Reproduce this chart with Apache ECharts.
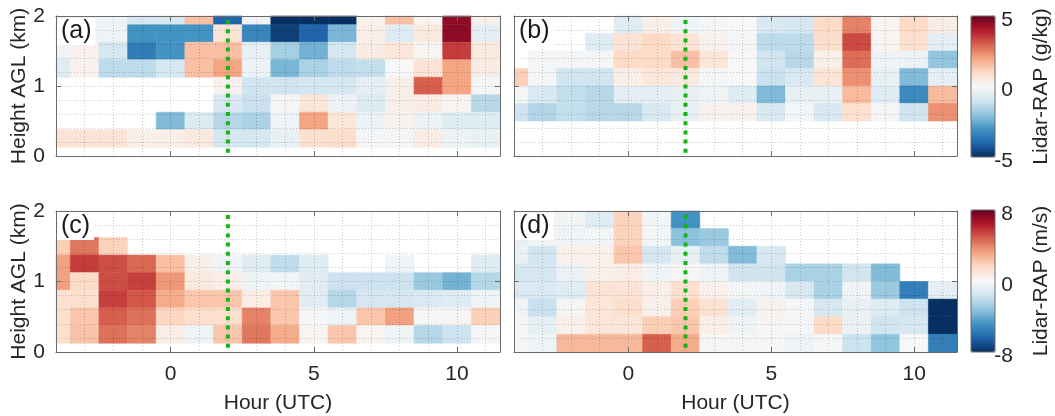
<!DOCTYPE html>
<html>
<head>
<meta charset="utf-8">
<script src="https://cdn.jsdelivr.net/npm/echarts@6/dist/echarts.min.js"></script>
<style>
  html, body { margin: 0; padding: 0; background: #ffffff; }
  #chart { width: 1055px; height: 416px; }
</style>
</head>
<body>
<div id="chart"></div>
<script>
// Hour bins (UTC) shared by all four panels, one column per hour
const hours = [-4, -3, -2, -1, 0, 1, 2, 3, 4, 5, 6, 7, 8, 9, 10, 11];
// Height bin centres (km AGL), top row first
const heightsAC = [2.0, 1.75, 1.5, 1.25, 1.0, 0.75, 0.5, 0.25];
const heightsBD = [1.875, 1.625, 1.375, 1.125, 0.875, 0.625, 0.375, 0.125];
// Reference time marked with the dotted line
const eventHour = [2];
// Tick labels
const hourTicks = [0, 5, 10];
const heightTicks = [0, 1, 2];
const mixingTicks = [-5, 0, 5];
const windTicks = [-8, 0, 8];
const panelLetters = ['(a)', '(b)', '(c)', '(d)'];
const axisNames = { hour: 'Hour (UTC)', height: 'Height AGL (km)', mixing: 'Lidar-RAP (g/kg)', wind: 'Lidar-RAP (m/s)' };

// (a) water vapour mixing ratio difference, g/kg (rows follow heightsAC)
const mixingDiffA = [
  [-0.2, -0.2, -0.2, -0.9, -0.9, 1.5, -4.0, -0.2, -5.0, -5.0, -5.0, 0.2, 1.5, 0.1, 4.5, 0.3],
  [-0.8, -0.3, -0.2, -3.0, -3.0, -3.0, 0.7, -3.3, -4.7, -4.0, -2.3, 0.3, -0.6, 0.5, 4.5, -0.5],
  [-0.2, 0.2, -0.9, -3.5, -3.0, 1.5, 1.5, -0.4, -1.7, -2.4, -0.9, 0.4, 0.6, 0.1, 3.5, 0.5],
  [-0.6, 0.2, -1.3, -1.3, -0.9, 1.5, 2.0, -0.3, -2.3, -1.6, -1.3, -1.2, 0.0, 0.7, 2.0, 0.4],
  [null, null, null, null, null, null, 0.2, -1.0, -1.0, -0.9, -0.9, -0.5, 0.3, 3.0, 2.0, -0.1],
  [null, null, null, null, null, null, -0.8, -1.1, -0.1, 0.6, -0.3, -0.7, 0.3, 0.4, 0.1, -1.4],
  [null, null, null, null, -2.2, -0.7, -1.4, -1.6, -0.2, 2.0, 0.6, -0.3, 0.2, -0.3, -0.6, -0.6],
  [0.7, 0.7, 0.7, 0.3, 0.3, 0.5, -0.9, -0.9, -0.4, 0.8, 0.9, -0.1, -0.1, 0.4, -0.3, -0.4]
];
// (b) water vapour mixing ratio difference, g/kg (rows follow heightsBD)
const mixingDiffB = [
  [null, null, null, null, -0.6, 0.3, -0.2, -0.1, 0.0, -0.8, -0.9, 1.0, 2.5, 0.1, 1.0, 0.4],
  [null, null, null, -0.6, 0.7, 1.0, 0.7, 0.2, -0.1, -1.3, -1.3, 0.9, 3.3, 0.1, 0.8, -0.5],
  [null, -0.1, -0.1, -0.1, 1.0, 1.0, 1.5, 0.6, 0.0, -1.0, -1.4, 0.3, 2.8, -0.2, -0.3, -2.0],
  [1.2, -0.1, -1.0, -1.0, 0.3, 0.6, 0.5, -0.1, 0.0, -1.1, -0.8, 0.7, 2.3, -0.4, -2.2, -0.5],
  [-0.1, -0.8, -1.2, -1.4, -0.5, -0.5, -0.4, -0.2, -0.6, -2.2, -0.4, -0.4, 1.6, -0.6, -3.2, 1.6],
  [-1.0, -1.5, -1.2, -1.4, -1.4, -0.8, -0.4, 0.2, 0.2, -0.8, -0.1, -0.8, 0.8, -0.1, -1.0, 2.3],
  [null, null, null, null, null, null, null, null, null, null, null, null, null, null, null, null],
  [null, null, null, null, null, null, null, null, null, null, null, null, null, null, null, null]
];
// (c) wind speed difference, m/s (rows follow heightsAC)
const windDiffC = [
  [null, null, null, null, null, null, null, null, null, null, null, null, null, null, null, null],
  [null, null, null, null, null, null, null, null, null, null, null, null, null, null, null, null],
  [2.0, 4.3, 1.8, null, null, null, null, null, null, null, null, null, null, null, null, null],
  [3.3, 5.6, 5.2, 4.6, 2.4, 0.5, -0.3, -1.0, -2.0, -1.0, null, null, -0.3, null, null, -1.0],
  [3.3, 1.5, 5.2, 5.5, 3.5, 0.8, 0.5, -0.4, -0.2, -0.9, -1.7, -1.7, -1.7, -3.0, -3.8, -2.3],
  [1.2, 1.4, 5.5, 5.0, 3.0, 2.2, 2.2, 0.6, 2.2, -0.9, -2.3, -1.4, -1.4, -1.2, -1.0, -0.4],
  [1.4, 2.2, 4.8, 4.4, 1.7, 1.4, 1.4, 4.0, 2.2, -0.1, -0.4, 2.2, 3.3, -0.1, 0.1, 1.9],
  [1.4, 2.3, 4.4, 4.0, 0.6, -0.4, 2.2, 4.3, 3.0, 0.2, 2.2, 0.2, -0.4, -2.3, -1.7, -0.1]
];
// (d) wind speed difference, m/s (rows follow heightsBD)
const windDiffD = [
  [-0.2, -0.2, -0.2, -1.0, 1.8, -0.2, -4.8, null, null, null, null, null, null, null, null, null],
  [-0.8, -0.3, -0.4, -0.2, 1.8, -0.2, -3.3, -3.0, null, null, null, null, null, null, null, null],
  [-0.5, -1.6, 0.4, 0.4, 2.2, -1.4, -0.6, -2.0, -3.5, -1.3, null, null, null, null, null, null],
  [-1.4, -1.4, -0.5, 0.4, 0.6, -0.3, 0.1, -0.3, -1.6, -1.6, -2.6, -2.6, -1.5, -3.5, null, null],
  [-1.2, -1.2, -1.0, 1.1, 1.1, 0.5, 1.3, 0.4, -0.2, -0.3, -1.3, -2.6, -0.3, -3.0, -5.5, -0.8],
  [-0.3, -1.8, 0.1, 1.0, 1.4, 0.4, 2.0, 1.2, -0.9, 0.3, -0.1, -1.3, -0.6, -1.1, -1.7, -8.0],
  [-0.1, -0.7, 0.4, 1.0, 1.0, 2.0, 2.2, 0.5, -0.4, 0.1, -0.1, 1.6, -0.5, -1.6, -1.3, -8.0],
  [-0.1, -0.4, 2.6, 2.6, 2.6, 4.8, 3.0, 0.1, 0.1, -0.1, -0.4, -0.1, -1.7, -3.2, 0.0, -5.5]
];

// Cell size in data units, and spacing of the light grid
const HOUR_STEP = 1;
const HEIGHT_STEP = 0.25;
const GRID_HEIGHT_STEP = 0.2;
const HOUR_MIN = -4, HOUR_MAX = 11.5, HEIGHT_MIN = 0, HEIGHT_MAX = 2;

const FONT = '"Liberation Sans", Arial, sans-serif';
const TEXT = '#262626';
const FRAME = '#6b6b6b';
const GRID_LINE = 'rgba(0,0,0,0.2)';
const MARK_GREEN = '#16b516';
const RDBU = ['#053061', '#2166ac', '#4393c3', '#92c5de', '#d1e5f0', '#f7f7f7',
              '#fddbc7', '#f4a582', '#d6604d', '#b2182b', '#67001f'];

const panels = [
  { rows: mixingDiffA, heights: heightsAC, rect: { left: 56, top: 16, width: 444, height: 140 }, isLeft: true, isBottom: false },
  { rows: mixingDiffB, heights: heightsBD, rect: { left: 514, top: 16, width: 443, height: 140 }, isLeft: false, isBottom: false },
  { rows: windDiffC, heights: heightsAC, rect: { left: 56, top: 211, width: 444, height: 141 }, isLeft: true, isBottom: true },
  { rows: windDiffD, heights: heightsBD, rect: { left: 514, top: 211, width: 443, height: 141 }, isLeft: false, isBottom: true }
];
const colorbars = [
  { ticks: mixingTicks, name: axisNames.mixing, rect: { left: 971, top: 16, width: 24, height: 141 }, series: [0, 1] },
  { ticks: windTicks, name: axisNames.wind, rect: { left: 971, top: 210, width: 24, height: 142 }, series: [2, 3] }
];

function toCells(rows, heights) {
  const cells = [];
  rows.forEach((row, r) => row.forEach((v, c) => {
    if (v !== null) cells.push([hours[c], heights[r], v]);
  }));
  return cells;
}

function renderCell(params, api) {
  const x = api.value(0), y = api.value(1);
  const p0 = api.coord([x - HOUR_STEP / 2, y + HEIGHT_STEP / 2]);
  const p1 = api.coord([x + HOUR_STEP / 2, y - HEIGHT_STEP / 2]);
  const cs = params.coordSys;
  const shape = echarts.graphic.clipRectByRect(
    { x: p0[0], y: p0[1], width: p1[0] - p0[0], height: p1[1] - p0[1] },
    { x: cs.x, y: cs.y, width: cs.width, height: cs.height }
  );
  if (!shape) return;
  const color = api.visual('color');
  return { type: 'rect', shape: shape, style: { fill: color, stroke: color, lineWidth: 0.6 } };
}

const labelStyle = { fontFamily: FONT, fontSize: 21, color: TEXT };
const tickStyle = { show: true, inside: true, length: 5, lineStyle: { color: FRAME, width: 1 } };
const frameLine = { show: true, onZero: false, lineStyle: { color: FRAME, width: 1 } };
const noLine = { show: false, onZero: false };
const dotted = { show: true, lineStyle: { type: [1, 2], color: GRID_LINE, width: 1 } };

const grid = [], xAxis = [], yAxis = [], series = [], title = [];
const hourScale = { type: 'value', min: HOUR_MIN, max: HOUR_MAX };
const heightScale = { type: 'value', min: HEIGHT_MIN, max: HEIGHT_MAX };

panels.forEach((p, i) => {
  grid.push(Object.assign({ containLabel: false }, p.rect));
  // x axes: bottom (ticks, labels, name), top (mirrored ticks), and an unlabelled one for the hourly grid
  xAxis.push(Object.assign({}, hourScale, {
    gridIndex: i, position: 'bottom', interval: 5, z: 3,
    axisLine: frameLine,
    axisTick: Object.assign({ customValues: hourTicks }, tickStyle),
    axisLabel: Object.assign({ show: p.isBottom, customValues: hourTicks, margin: 12 }, labelStyle),
    splitLine: { show: false },
    name: p.isBottom ? axisNames.hour : '', nameLocation: 'middle', nameGap: 41,
    nameTextStyle: labelStyle
  }));
  xAxis.push(Object.assign({}, hourScale, {
    gridIndex: i, position: 'top', interval: 5, z: 3,
    axisLine: frameLine,
    axisTick: Object.assign({ customValues: hourTicks }, tickStyle),
    axisLabel: { show: false }, splitLine: { show: false }
  }));
  xAxis.push(Object.assign({}, hourScale, {
    gridIndex: i, position: 'bottom', interval: HOUR_STEP, z: 3,
    axisLine: noLine, axisTick: { show: false }, axisLabel: { show: false },
    splitLine: dotted
  }));
  // y axes: left (ticks, labels, name), right (mirrored ticks), and one for the 0.2 km grid
  yAxis.push(Object.assign({}, heightScale, {
    gridIndex: i, position: 'left', interval: 1, z: 3,
    axisLine: frameLine,
    axisTick: Object.assign({ customValues: heightTicks }, tickStyle),
    axisLabel: Object.assign({ show: p.isLeft, customValues: heightTicks, margin: 11 }, labelStyle),
    splitLine: { show: false },
    name: p.isLeft ? axisNames.height : '', nameLocation: 'middle', nameRotate: 90, nameGap: 21,
    nameTextStyle: labelStyle
  }));
  yAxis.push(Object.assign({}, heightScale, {
    gridIndex: i, position: 'right', interval: 1, z: 3,
    axisLine: frameLine,
    axisTick: Object.assign({ customValues: heightTicks }, tickStyle),
    axisLabel: { show: false }, splitLine: { show: false }
  }));
  yAxis.push(Object.assign({}, heightScale, {
    gridIndex: i, position: 'left', interval: GRID_HEIGHT_STEP, z: 3,
    axisLine: noLine, axisTick: { show: false }, axisLabel: { show: false },
    splitLine: dotted
  }));
  series.push({
    type: 'custom', xAxisIndex: 3 * i, yAxisIndex: 3 * i, z: 2,
    renderItem: renderCell, data: toCells(p.rows, p.heights), silent: true
  });
  title.push({
    text: panelLetters[i], left: p.rect.left + 1, top: p.rect.top + 2,
    padding: [1, 4, 1, 4], backgroundColor: '#ffffff', z: 10,
    textStyle: { fontFamily: FONT, fontSize: 25, fontWeight: 'normal', color: '#1a1a1a' }
  });
});

// dotted marker line at the reference hour, drawn over the cells
panels.forEach((p, i) => {
  eventHour.forEach(h => {
    series.push({
      type: 'line', xAxisIndex: 3 * i, yAxisIndex: 3 * i, z: 4, silent: true,
      symbol: 'none', data: [[h, HEIGHT_MAX], [h, HEIGHT_MIN]],
      lineStyle: { color: MARK_GREEN, width: 4, type: [4, 5.2], dashOffset: -4, cap: 'butt' }
    });
  });
});

// colour scales: gradient bar from visualMap, labelled axis on a framed grid
const visualMap = colorbars.map(cb => ({
  type: 'continuous', seriesIndex: cb.series, dimension: 2,
  min: cb.ticks[0], max: cb.ticks[cb.ticks.length - 1],
  inRange: { color: RDBU }, calculable: false, hoverLink: false,
  left: cb.rect.left, top: cb.rect.top, itemWidth: cb.rect.width, itemHeight: cb.rect.height,
  padding: 0, text: null, z: 4
}));
colorbars.forEach((cb, k) => {
  const gi = panels.length + k;
  grid.push(Object.assign({ show: true, borderColor: FRAME, borderWidth: 1, backgroundColor: 'transparent', z: 5 }, cb.rect));
  xAxis.push({ type: 'value', gridIndex: gi, min: 0, max: 1, show: false });
  yAxis.push({
    type: 'value', gridIndex: gi, position: 'right',
    min: cb.ticks[0], max: cb.ticks[cb.ticks.length - 1], interval: cb.ticks[1] - cb.ticks[0],
    axisLine: { show: false }, axisTick: { show: false }, splitLine: { show: false },
    axisLabel: Object.assign({ align: 'right', margin: 18, verticalAlign: 'top', lineHeight: 8 }, labelStyle),
    name: cb.name, nameLocation: 'middle', nameRotate: 90, nameGap: 36, nameTextStyle: labelStyle
  });
});

const chart = echarts.init(document.getElementById('chart'), null, { renderer: 'canvas' });
chart.setOption({
  animation: false,
  backgroundColor: '#ffffff',
  textStyle: { fontFamily: FONT },
  title, grid, xAxis, yAxis, visualMap, series
});
</script>
</body>
</html>
